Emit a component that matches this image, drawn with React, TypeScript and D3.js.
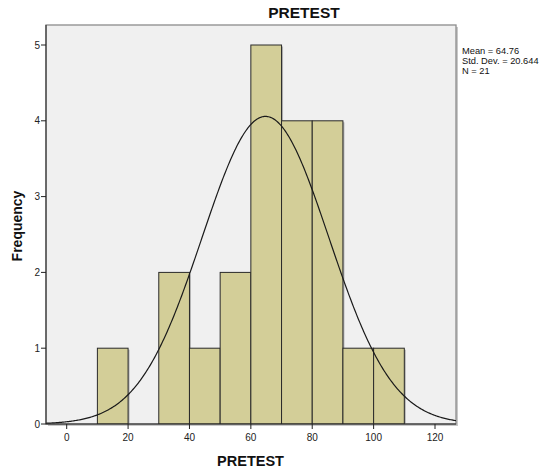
import React from "react";
import * as d3 from "d3";

const binStarts = [10, 20, 30, 40, 50, 60, 70, 80, 90, 100];
const binCounts = [1, 0, 2, 1, 2, 5, 4, 4, 1, 1];
const binWidth = 10;
const xTicks = [0, 20, 40, 60, 80, 100, 120];
const yTicks = [0, 1, 2, 3, 4, 5];
const meanVal = 64.76;
const sdVal = 20.644;
const nVal = 21;
const legendLines = ["Mean = 64.76", "Std. Dev. = 20.644", "N = 21"];

const W = 548;
const H = 470;
const frame = { left: 46, right: 456, top: 25, bottom: 424 };

export default function App() {
  const x = d3.scaleLinear().domain([0, 120]).range([66.7, 435]);
  const y = d3.scaleLinear().domain([0, 5]).range([424, 45]);
  const xMin = x.invert(frame.left);
  const xMax = x.invert(frame.right);

  const pts = d3.range(0, 401).map((i) => xMin + ((xMax - xMin) * i) / 400);
  const pdf = (v: number) =>
    Math.exp(-0.5 * ((v - meanVal) / sdVal) ** 2) / (sdVal * Math.sqrt(2 * Math.PI));
  const line = d3
    .line<number>()
    .x((d) => x(d))
    .y((d) => y(nVal * binWidth * pdf(d)))
    .curve(d3.curveLinear);

  const font = "Arial, 'Liberation Sans', sans-serif";

  return (
    <svg
      width={W}
      height={H}
      style={{ position: "absolute", left: 0, top: 0, background: "#fff" }}
      fontFamily={font}
    >
      <defs>
        <clipPath id="plotclip">
          <rect x={frame.left} y={frame.top} width={frame.right - frame.left} height={frame.bottom - frame.top} />
        </clipPath>
      </defs>
      <rect
        x={frame.left + 2}
        y={frame.top + 2}
        width={frame.right - frame.left}
        height={frame.bottom - frame.top}
        fill="#c8c8c8"
      />
      <rect
        x={frame.left}
        y={frame.top}
        width={frame.right - frame.left}
        height={frame.bottom - frame.top}
        fill="#f0f0f0"
        stroke="#8c8c8c"
        strokeWidth={1.3}
      />
      <g clipPath="url(#plotclip)">
        {binStarts.map((s, i) =>
          binCounts[i] > 0 ? (
            <rect
              key={"sh" + i}
              x={x(s) + 1.5}
              y={y(binCounts[i]) + 1.5}
              width={x(s + binWidth) - x(s)}
              height={y(0) - y(binCounts[i])}
              fill="#9a9a9a"
              opacity={0.7}
            />
          ) : null
        )}
        {binStarts.map((s, i) =>
          binCounts[i] > 0 ? (
            <rect
              key={"b" + i}
              x={x(s)}
              y={y(binCounts[i])}
              width={x(s + binWidth) - x(s)}
              height={y(0) - y(binCounts[i])}
              fill="#d3ce98"
              stroke="#2a2a2a"
              strokeWidth={1}
            />
          ) : null
        )}
        <path d={line(pts) || ""} fill="none" stroke="#1a1a1a" strokeWidth={1.2} />
      </g>
      <line x1={frame.left} x2={frame.left} y1={frame.top} y2={frame.bottom} stroke="#222" strokeWidth={1} />
      {yTicks.map((t) => (
        <g key={"yt" + t}>
          <line x1={frame.left - 5} x2={frame.left} y1={y(t)} y2={y(t)} stroke="#222" />
          <text x={frame.left - 6} y={y(t) + 3.5} fontSize={10} textAnchor="end" fill="#222">
            {t}
          </text>
        </g>
      ))}
      <line x1={frame.left} x2={frame.right} y1={frame.bottom} y2={frame.bottom} stroke="#222" strokeWidth={1} />
      {xTicks.map((t) => (
        <g key={"xt" + t}>
          <line x1={x(t)} x2={x(t)} y1={frame.bottom} y2={frame.bottom + 5} stroke="#222" />
          <text x={x(t)} y={frame.bottom + 17} fontSize={10} textAnchor="middle" fill="#222">
            {t}
          </text>
        </g>
      ))}
      <text x={304} y={18} fontSize={15.5} fontWeight="bold" textAnchor="middle" fill="#111">
        PRETEST
      </text>
      <text x={250.5} y={466} fontSize={14.5} fontWeight="bold" textAnchor="middle" fill="#111">
        PRETEST
      </text>
      <text
        transform={`translate(22, 226) rotate(-90)`}
        fontSize={14}
        fontWeight="bold"
        textAnchor="middle"
        fill="#111"
      >
        Frequency
      </text>
      {legendLines.map((l, i) => (
        <text key={"lg" + i} x={462} y={53.5 + i * 10.3} fontSize={9.3} fill="#111">
          {l}
        </text>
      ))}
    </svg>
  );
}
